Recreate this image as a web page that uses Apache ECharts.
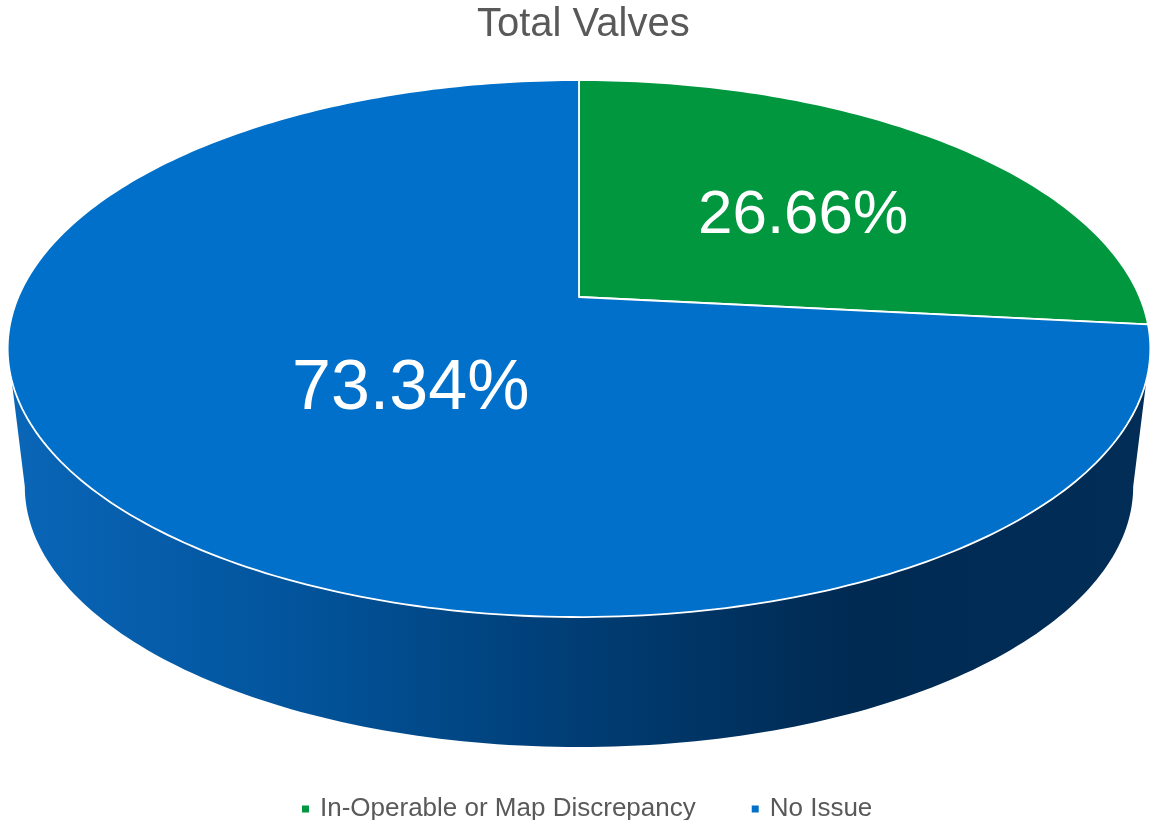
<!DOCTYPE html>
<html>
<head>
<meta charset="utf-8">
<script src="https://cdn.jsdelivr.net/npm/echarts@6/dist/echarts.min.js"></script>
<style>html,body{margin:0;padding:0;background:#fff}#main{width:1150px;height:820px}</style>
</head>
<body>
<div id="main"></div>
<script>
// ---- data ----
const categories = ['In-Operable or Map Discrepancy', 'No Issue'];
const values = [26.66, 73.34];
const titleText = 'Total Valves';

// ---- style / layout ----
const topColors = ['#00973F', '#0070CA'];
const sideColors = ['#006a2c', null]; // null -> gradient
const labelFont = [62, 70];
const labelR = [0.52, 0.44];
const labelNudge = [[21, 3], [26, 12]];

const CX = 579, CY = 297, A = 560.7, B = 258.6, P = 0.192;
const SB = 0.97, CYB = 436.6;
const FONT = '"Liberation Sans", Arial, sans-serif';

const total = values.reduce((s, v) => s + v, 0);
const starts = [];
{ let acc = 0; values.forEach(v => { starts.push(90 - acc / total * 360); acc += v; }); }

function proj(tDeg, top, r) {
  const t = tDeg * Math.PI / 180;
  const rr = r == null ? 1 : r;
  const u = rr * Math.cos(t), v = rr * Math.sin(t);
  const d = 1 + P * v;
  const s = top ? 1 : SB;
  const cy = top ? CY : CYB;
  return [CX + A * s * u / d, cy - B * s * v / d];
}
function arc(a0, a1, top) {
  const pts = [];
  const n = Math.max(2, Math.ceil(Math.abs(a1 - a0)));
  for (let i = 0; i <= n; i++) pts.push(proj(a0 + (a1 - a0) * i / n, top));
  return pts;
}
const silh = Math.asin(P) * 180 / Math.PI;
const sideGrad = {
  type: 'linear', x: 8, y: 0, x2: 1150, y2: 0, global: true,
  colorStops: [
    { offset: 0, color: '#0a66b8' },
    { offset: 0.25, color: '#02549c' },
    { offset: 0.5, color: '#003d74' },
    { offset: 0.74, color: '#002a52' },
    { offset: 1, color: '#012d57' }
  ]
};

function makeSeries(i) {
  return {
    type: 'custom',
    name: categories[i],
    coordinateSystem: 'none',
    itemStyle: { color: topColors[i] },
    data: [values[i]],
    renderItem: function (params, api) {
      const val = api.value(0);
      const a0 = starts[i];
      const a1 = a0 - val / total * 360;
      const children = [];
      // side
      const sa = Math.min(a0, -silh), sb = Math.max(a1, -180 + silh);
      if (sa > sb) {
        const pts = arc(sa, sb, true).concat(arc(sb, sa, false));
        children.push({ type: 'polygon', z2: 1, shape: { points: pts },
          style: { fill: sideColors[i] || sideGrad, stroke: null } });
      }
      // top face
      const tp = [[CX, CY]].concat(arc(a0, a1, true));
      children.push({ type: 'polygon', z2: 10, shape: { points: tp },
        style: { fill: topColors[i], stroke: '#ffffff', lineWidth: 1.8, lineJoin: 'round' } });
      // label
      const mid = (a0 + a1) / 2;
      const lp = proj(mid, true, labelR[i]);
      children.push({ type: 'text', z2: 20, x: lp[0] + labelNudge[i][0], y: lp[1] + labelNudge[i][1],
        style: { text: (val / total * 100).toFixed(2) + '%', fill: '#ffffff',
          fontSize: labelFont[i], fontFamily: FONT, align: 'center', verticalAlign: 'middle' } });
      return { type: 'group', children: children };
    }
  };
}

const chart = echarts.init(document.getElementById('main'), null, { renderer: 'canvas' });
chart.setOption({
  animation: false,
  backgroundColor: '#ffffff',
  title: {
    text: titleText, left: 472, top: 0,
    textStyle: { color: '#595959', fontSize: 40, fontWeight: 'normal', fontFamily: FONT }
  },
  legend: {
    data: categories, top: 791, left: 297, icon: 'rect',
    itemWidth: 7, itemHeight: 7, itemGap: 56,
    textStyle: { color: '#595959', fontSize: 26, fontFamily: FONT, padding: [0, 0, 0, 6] }
  },
  series: categories.map((c, i) => makeSeries(i))
});
</script>
</body>
</html>
